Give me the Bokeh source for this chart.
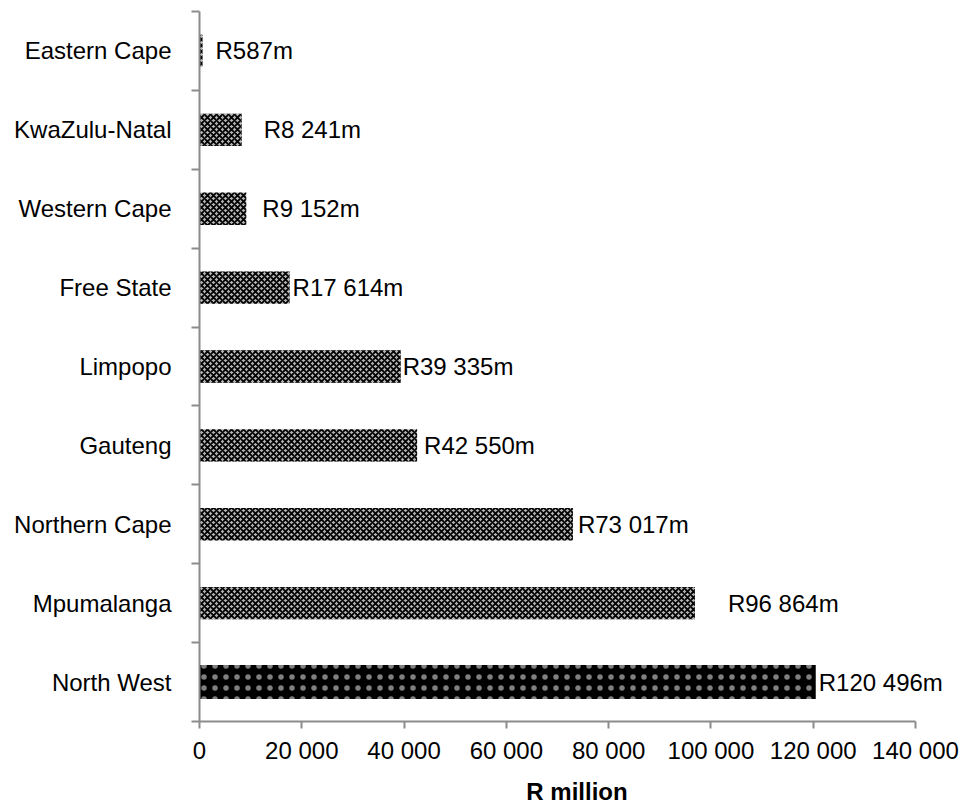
from bokeh.plotting import figure
from bokeh.models import FixedTicker, ColumnDataSource
from bokeh.embed import file_html
from bokeh.resources import INLINE
from bokeh.core.properties import value

# Data (top to bottom as in the reference)
provinces = ["Eastern Cape", "KwaZulu-Natal", "Western Cape", "Free State",
             "Limpopo", "Gauteng", "Northern Cape", "Mpumalanga", "North West"]
amounts = [587, 8241, 9152, 17614, 39335, 42550, 73017, 96864, 120496]
x_ticks = [0, 20000, 40000, 60000, 80000, 100000, 120000, 140000]

# label gap (px) after each bar end, as placed in the reference
label_gap = [13, 22, 16, 3, 2, 7, 5, 33, 3]

FONT = "Liberation Sans"
FS = "24px"
n = len(provinces)
ypos = [n - 1 - i + 0.5 for i in range(n)]
labels = ["R" + f"{v:,}".replace(",", " ") + "m" for v in amounts]

src = ColumnDataSource(dict(y=ypos, amt=amounts, lab=labels, gap=label_gap))
gray_src = ColumnDataSource(dict(y=ypos[:-1], amt=amounts[:-1]))
nw_src = ColumnDataSource(dict(y=ypos[-1:], amt=amounts[-1:]))

# layout: axis 0..140000 spans 716 px; frame extended to the right so labels are not clipped
left_b, right_b = 199, 8
frame_w = 962 - left_b - right_b
x_end = x_ticks[-1] * frame_w / 716.0

p = figure(width=962, height=807, x_range=(0, x_end), y_range=(0, n),
           output_backend="svg", toolbar_location=None,
           min_border_left=left_b, min_border_right=right_b, min_border_top=11,
           min_border_bottom=82)
p.outline_line_color = None
p.xgrid.grid_line_color = None
p.ygrid.grid_line_color = None

p.hbar(y="y", right="amt", left=0, height=0.41, source=gray_src,
       fill_color="#b4b4b4", line_color=None,
       hatch_pattern="diagonal_cross", hatch_color="black",
       hatch_scale=6, hatch_weight=1.8)
p.hbar(y="y", right="amt", left=0, height=0.43, source=nw_src,
       fill_color="black", line_color=None,
       hatch_pattern="dot", hatch_color="white", hatch_alpha=0.5,
       hatch_scale=11, hatch_weight=1)

p.text(x="amt", y="y", text="lab", source=src, x_offset="gap",
       text_font=value(FONT), text_font_size=FS, text_color="black",
       text_baseline="middle", text_align="left")

gray = "#8c8c8c"
# x axis
xa = p.xaxis[0]
xa.ticker = FixedTicker(ticks=x_ticks)
xa.bounds = (x_ticks[0], x_ticks[-1])
xa.major_label_overrides = {t: f"{t:,}".replace(",", " ") for t in x_ticks}
xa.axis_line_color = gray
xa.axis_line_width = 2
xa.major_tick_line_color = gray
xa.major_tick_line_width = 2
xa.major_tick_out = 7
xa.major_tick_in = 0
xa.minor_tick_line_color = None
xa.major_label_text_font = FONT
xa.major_label_text_font_size = FS
xa.major_label_text_color = "black"
xa.major_label_standoff = 8
xa.axis_label = "R million"
xa.axis_label_text_font = FONT
xa.axis_label_text_font_size = FS
xa.axis_label_text_font_style = "bold"
xa.axis_label_text_color = "black"
xa.axis_label_standoff = 11

# y axis
ya = p.yaxis[0]
ya.ticker = FixedTicker(ticks=ypos, minor_ticks=list(range(n + 1)))
ya.major_label_overrides = {y: name for y, name in zip(ypos, provinces)}
ya.axis_line_color = gray
ya.axis_line_width = 2
ya.major_tick_line_color = None
ya.major_tick_out = 0
ya.major_tick_in = 0
ya.minor_tick_line_color = gray
ya.minor_tick_line_width = 2
ya.minor_tick_out = 8
ya.minor_tick_in = 0
ya.major_label_text_font = FONT
ya.major_label_text_font_size = FS
ya.major_label_text_color = "black"
ya.major_label_standoff = 20

open("out.html", "w").write(file_html(p, INLINE))
